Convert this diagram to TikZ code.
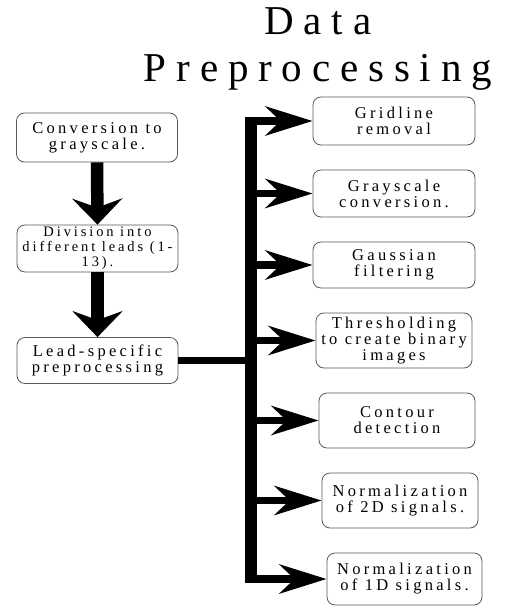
\documentclass[tikz,border=0pt]{standalone}
\usepackage{fontspec}
\setmainfont{Liberation Serif}
% Widely tracked cuts of the serif face for boxes and heading
\newfontfamily\boxfont{Liberation Serif}[LetterSpace=20]
\newfontfamily\headfont{Liberation Serif}[LetterSpace=24]
\usetikzlibrary{arrows.meta}

\tikzset{
  x=1pt, y=-1pt,
  stepbox/.style={draw=black!65, line width=0.8pt, rounded corners=8pt,
    fill=white, align=center, inner xsep=0pt, inner ysep=0pt,
    font=\boxfont\fontsize{16.5}{16}\selectfont, text=black},
  down/.style={line width=12.5pt, draw=black,
    -{Stealth[length=26pt, width=50pt, inset=9pt]}},
  side/.style={line width=7.5pt, draw=black,
    -{Stealth[length=47pt, width=29pt, inset=15pt]}},
  trunk/.style={line width=12.5pt, draw=black},
  feed/.style={line width=7.5pt, draw=black},
  heading/.style={font=\headfont\fontsize{41}{47}\selectfont, inner sep=0pt, anchor=base},
}

\begin{document}
\begin{tikzpicture}
\path[use as bounding box, fill=white] (0,0) rectangle (507,607);

% Title
\node[heading] (titleA) at (318,35) {Data};
\node[heading] (titleB) at (318,82) {Preprocessing};

% Left column: sequential steps
\node[stepbox, minimum width=161pt, minimum height=49pt] (conv) at (97,137.5)
  {Conversion to\\grayscale.};
\node[stepbox, minimum width=161pt, minimum height=47pt,
      font=\boxfont\fontsize{14.5}{15}\selectfont] (div) at (97.5,248.5)
  {Division into\\different leads (1-\\13).};
\node[stepbox, minimum width=161pt, minimum height=46pt] (lead) at (97.5,360.5)
  {Lead-specific\\preprocessing};

% Right column: lead-specific operations
\node[stepbox, minimum width=162pt, minimum height=48pt] (grid) at (394,121)
  {Gridline\\removal};
\node[stepbox, minimum width=162pt, minimum height=47pt] (gray) at (394,193.5)
  {Grayscale\\conversion.};
\node[stepbox, minimum width=162pt, minimum height=46pt] (gauss) at (394,265)
  {Gaussian\\filtering};
\node[stepbox, minimum width=156pt, minimum height=55pt] (thresh) at (394,340.5)
  {Thresholding\\to create binary\\images};
\node[stepbox, minimum width=156pt, minimum height=55pt] (contour) at (397,420.5)
  {Contour\\detection};
\node[stepbox, minimum width=156pt, minimum height=55pt] (normtwo) at (400,500.5)
  {Normalization\\of 2D signals.};
\node[stepbox, minimum width=155pt, minimum height=52pt] (normone) at (404.5,579)
  {Normalization\\of 1D signals.};

% Vertical distribution bus, flush with the outer branches
\coordinate (busTop) at (251,117.25);
\coordinate (busBot) at (251,582.75);
\draw[trunk] (busTop) -- (busBot);

% Sequential arrows
\draw[down] (conv.south) -- (div.north);
\draw[down] (div.south) -- (lead.north);

% Feed into the bus
\draw[feed] (lead.east) -- (lead.east -| busTop);

% Branches from the bus to each operation
\foreach \t in {grid,gray,gauss,thresh,contour,normtwo,normone}
  \draw[side] (\t.west -| busTop) -- (\t.west);

\end{tikzpicture}
\end{document}
